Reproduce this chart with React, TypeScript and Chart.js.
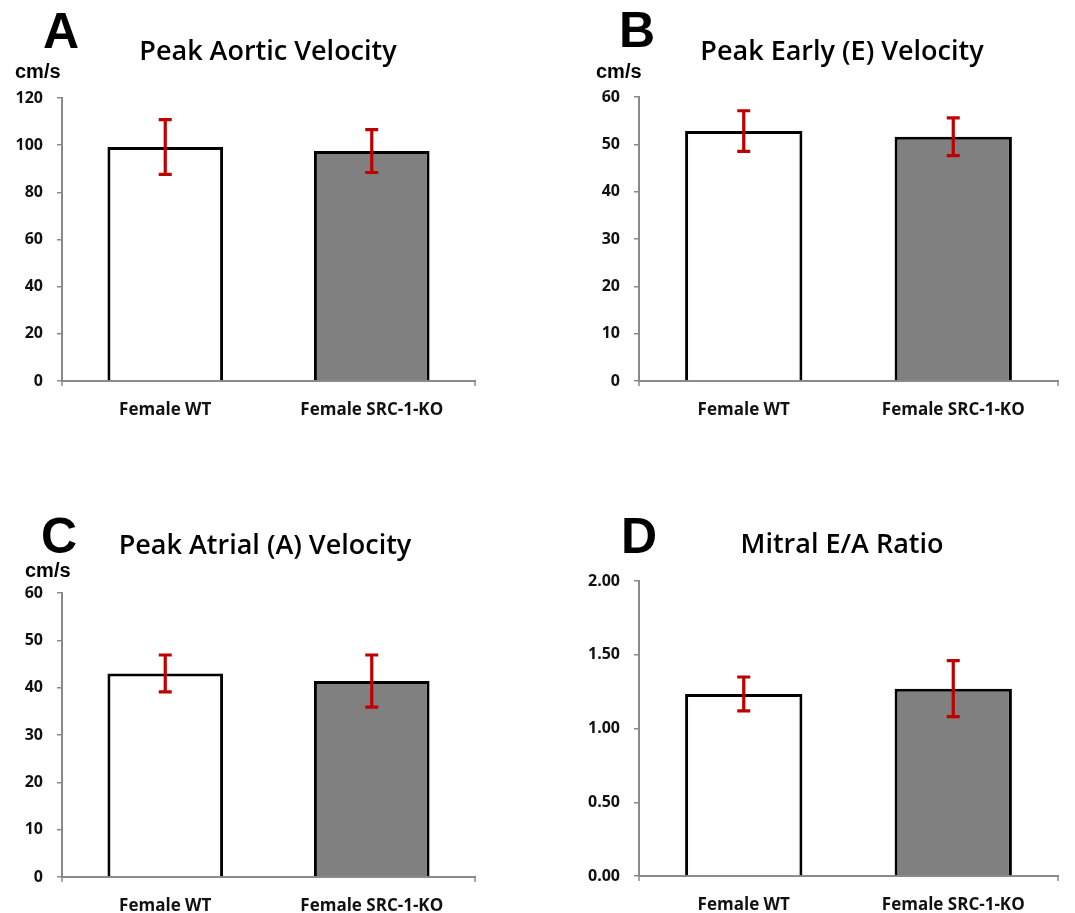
import React, { useEffect, useRef } from 'react';
import { Chart, registerables } from 'chart.js';

Chart.register(...registerables);

const categories = ['Female WT', 'Female SRC-1-KO'];

const aorticMeans = [99.2, 97.5];
const aorticErrors = [11.6, 9.1];
const aorticTicks = [0, 20, 40, 60, 80, 100, 120];

const earlyMeans = [52.8, 51.6];
const earlyErrors = [4.3, 4.0];
const earlyTicks = [0, 10, 20, 30, 40, 50, 60];

const atrialMeans = [43.0, 41.4];
const atrialErrors = [3.9, 5.5];
const atrialTicks = [0, 10, 20, 30, 40, 50, 60];

const ratioMeans = [1.234, 1.27];
const ratioErrors = [0.115, 0.19];
const ratioTicks = [0, 0.5, 1.0, 1.5, 2.0];

const barFills = ['#ffffff', '#808080'];
const AXIS_GRAY = '#8a8a8a';
const ERR_RED = '#c00000';

type PanelProps = {
  letter: string;
  title: string;
  unit?: string;
  means: number[];
  errors: number[];
  ticks: number[];
  decimals: number;
  box: { left: number; top: number; width: number; height: number };
  area: { left: number; top: number; right: number; bottom: number };
  text: {
    letterX: number;
    letterY: number;
    titleX: number;
    titleY: number;
    unitX?: number;
    unitY?: number;
  };
};

const panelPlugin = {
  id: 'panelDecor',
  afterDatasetsDraw(chart: any, _args: any, opts: any) {
    const ctx = chart.ctx;
    const meta = chart.getDatasetMeta(0);
    const y = chart.scales.y;
    ctx.save();
    ctx.strokeStyle = ERR_RED;
    ctx.lineWidth = 3.2;
    ctx.lineCap = 'butt';
    meta.data.forEach((bar: any, i: number) => {
      const v = opts.means[i];
      const e = opts.errors[i];
      const top = y.getPixelForValue(v + e);
      const bot = y.getPixelForValue(v - e);
      const x = bar.x;
      ctx.beginPath();
      ctx.moveTo(x, top);
      ctx.lineTo(x, bot);
      ctx.moveTo(x - 6.5, top);
      ctx.lineTo(x + 6.5, top);
      ctx.moveTo(x - 6.5, bot);
      ctx.lineTo(x + 6.5, bot);
      ctx.stroke();
    });
    ctx.restore();
  },
  afterDraw(chart: any, _args: any, opts: any) {
    const ctx = chart.ctx;
    const a = chart.chartArea;
    ctx.save();
    // end ticks on the category axis
    ctx.strokeStyle = AXIS_GRAY;
    ctx.lineWidth = 1.5;
    ctx.beginPath();
    ctx.moveTo(a.left, a.bottom);
    ctx.lineTo(a.left, a.bottom + 5);
    ctx.moveTo(a.right, a.bottom);
    ctx.lineTo(a.right, a.bottom + 5);
    ctx.stroke();

    const t = opts.text;
    ctx.fillStyle = '#000';
    ctx.textBaseline = 'alphabetic';
    ctx.textAlign = 'left';
    ctx.font = 'bold 50px "Liberation Sans", Arial, sans-serif';
    ctx.fillText(opts.letter, t.letterX, t.letterY);

    ctx.font = '600 27px "Open Sans", sans-serif';
    ctx.textAlign = 'center';
    ctx.textBaseline = 'middle';
    ctx.fillText(opts.title, t.titleX, t.titleY);

    if (opts.unit) {
      ctx.font = 'bold 20px "Liberation Sans", Arial, sans-serif';
      ctx.textAlign = 'left';
      ctx.textBaseline = 'alphabetic';
      ctx.fillText(opts.unit, t.unitX, t.unitY);
    }
    ctx.restore();
  },
};

function Panel(p: PanelProps) {
  const ref = useRef<HTMLCanvasElement | null>(null);
  useEffect(() => {
    if (!ref.current) return;
    const { box, area } = p;
    const chart = new Chart(ref.current, {
      type: 'bar',
      data: {
        labels: categories,
        datasets: [
          {
            data: p.means,
            backgroundColor: barFills,
            borderColor: '#000000',
            borderWidth: 3,
            barPercentage: 0.56,
            categoryPercentage: 1,
          },
        ],
      },
      options: {
        animation: false,
        responsive: false,
        devicePixelRatio: 1,
        layout: {
          padding: {
            left: 0,
            top: area.top,
            right: box.width - area.right,
            bottom: 0,
          },
        },
        plugins: {
          legend: { display: false },
          tooltip: { enabled: false },
          title: { display: false },
          panelDecor: {
            letter: p.letter,
            title: p.title,
            unit: p.unit,
            means: p.means,
            errors: p.errors,
            text: p.text,
          },
        } as any,
        scales: {
          x: {
            type: 'category',
            grid: { display: false, drawTicks: false },
            border: { display: true, color: AXIS_GRAY, width: 2 },
            ticks: {
              color: '#111',
              padding: 19,
              font: { family: '"Open Sans", sans-serif', size: 17, weight: 'bold' },
              maxRotation: 0,
              autoSkip: false,
            },
            afterFit: (s: any) => {
              s.height = box.height - area.bottom;
            },
          },
          y: {
            type: 'linear',
            min: p.ticks[0],
            max: p.ticks[p.ticks.length - 1],
            grid: {
              display: true,
              drawOnChartArea: false,
              drawTicks: true,
              tickLength: 5,
              color: AXIS_GRAY,
              lineWidth: 1.5,
            },
            border: { display: true, color: AXIS_GRAY, width: 2 },
            afterBuildTicks: (s: any) => {
              s.ticks = p.ticks.map((v) => ({ value: v }));
            },
            ticks: {
              color: '#111',
              padding: 14,
              font: { family: '"Open Sans", sans-serif', size: 16, weight: 'bold' },
              callback: (v: any) => Number(v).toFixed(p.decimals),
            },
            afterFit: (s: any) => {
              s.width = area.left;
            },
          },
        },
      },
      plugins: [panelPlugin],
    });
    return () => chart.destroy();
  }, []);
  return (
    <div
      style={{
        position: 'absolute',
        left: p.box.left,
        top: p.box.top,
        width: p.box.width,
        height: p.box.height,
      }}
    >
      <canvas
        ref={ref}
        width={p.box.width}
        height={p.box.height}
        style={{ width: p.box.width, height: p.box.height, display: 'block' }}
      />
    </div>
  );
}

export default function App() {
  return (
    <div
      style={{
        position: 'absolute',
        left: 0,
        top: 0,
        width: 1075,
        height: 913,
        background: '#ffffff',
        overflow: 'hidden',
      }}
    >
      <Panel
        letter="A"
        title="Peak Aortic Velocity"
        unit="cm/s"
        means={aorticMeans}
        errors={aorticErrors}
        ticks={aorticTicks}
        decimals={0}
        box={{ left: 0, top: 0, width: 537, height: 456 }}
        area={{ left: 62, top: 98, right: 475, bottom: 381 }}
        text={{ letterX: 43, letterY: 48, titleX: 268, titleY: 52, unitX: 15, unitY: 78 }}
      />
      <Panel
        letter="B"
        title="Peak Early (E) Velocity"
        unit="cm/s"
        means={earlyMeans}
        errors={earlyErrors}
        ticks={earlyTicks}
        decimals={0}
        box={{ left: 537, top: 0, width: 538, height: 456 }}
        area={{ left: 102, top: 97, right: 521, bottom: 381 }}
        text={{ letterX: 82, letterY: 47, titleX: 305, titleY: 52, unitX: 59, unitY: 78 }}
      />
      <Panel
        letter="C"
        title="Peak Atrial (A) Velocity"
        unit="cm/s"
        means={atrialMeans}
        errors={atrialErrors}
        ticks={atrialTicks}
        decimals={0}
        box={{ left: 0, top: 456, width: 537, height: 457 }}
        area={{ left: 62, top: 137, right: 475, bottom: 421 }}
        text={{ letterX: 41, letterY: 97, titleX: 265, titleY: 90, unitX: 25, unitY: 121 }}
      />
      <Panel
        letter="D"
        title="Mitral E/A Ratio"
        means={ratioMeans}
        errors={ratioErrors}
        ticks={ratioTicks}
        decimals={2}
        box={{ left: 537, top: 456, width: 538, height: 457 }}
        area={{ left: 102, top: 125, right: 521, bottom: 420 }}
        text={{ letterX: 84, letterY: 97, titleX: 305, titleY: 89 }}
      />
    </div>
  );
}
